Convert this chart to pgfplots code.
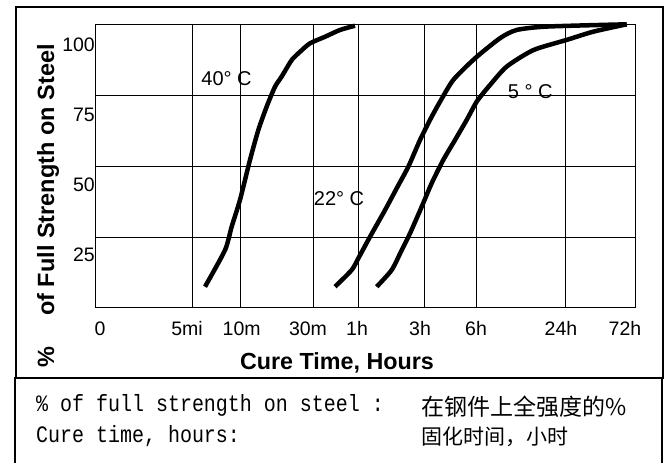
\documentclass[border=0pt]{standalone}
\usepackage{pgfplots}
\pgfplotsset{compat=1.18}
\usepackage{fontspec}
\setmainfont{Liberation Sans}
\newfontfamily\cjk{Noto Sans CJK SC}
\newfontfamily\mono[FakeStretch=0.85]{Liberation Mono}

\begin{document}
\begin{tikzpicture}[x=1pt,y=1pt]
\path[use as bounding box] (0,0) rectangle (671,463);
\begin{axis}[
    at={(95pt,155pt)}, anchor=south west,
    scale only axis, width=540pt, height=283.7pt,
    xmin=0, xmax=540, ymin=0, ymax=100,
    % grid lines sit where the chart draws them (5mi,10m,30m,1h,3h,6h,24h)
    xtick={97.3,145.7,218.3,263.3,329.3,381.7,470.3}, xticklabels={,,,,,,},
    ytick={25,50,75}, yticklabels={,,},
    grid=major, major grid style={black, line width=0.9pt},
    major tick length=0pt,
    axis line style={line width=1pt},
    extra x ticks={5,92,146.7,213,262,325,381,466,530},
    extra x tick labels={\raisebox{2pt}{0},5mi,10m,30m,1h,\raisebox{2pt}{3h},\raisebox{3pt}{6h},\raisebox{4pt}{24h},\raisebox{7pt}{72h}},
    extra y ticks={18.7,43.4,68,92.7},
    extra y tick labels={25,50,75,100},
    extra tick style={grid=none, major tick length=0pt},
    tick label style={font=\fontsize{19.5}{20}\selectfont},
    yticklabel style={anchor=east, inner xsep=0pt},
    xticklabel style={yshift=-10pt},
    /pgf/number format/assume math mode=true,
    clip=false,
]

% 40 C
\addplot[black, line width=4.5pt, smooth, tension=0.4] coordinates {
    (110,7.5) (130,20.4) (136.7,28.7) (145,38.1) (155,52.2) (163.3,62.7)
    (171.7,71.0) (180,78.0) (186.7,81.6) (196.7,87.4) (205,90.3) (215,93.3)
    (230,95.6) (245,98.0) (260,99.5)
};
% 22 C
\addplot[black, line width=4.5pt, smooth, tension=0.4] coordinates {
    (240,7.5) (256.7,13.4) (263.3,17.5) (275,25.1) (290,34.5) (301.7,42.2)
    (313.3,49.8) (325,59.2) (335,66.3) (345,72.7) (358.3,80.4) (380,88.0)
    (405,95.1) (421.7,98.0) (451.7,99.2) (531.7,100)
};
% 5 C
\addplot[black, line width=4.5pt, smooth, tension=0.4] coordinates {
    (281.7,7.5) (296.7,13.4) (306.7,20.4) (315,26.3) (326.7,35.7) (336.7,44.0)
    (348.3,52.2) (360,59.2) (371.7,66.3) (382,72.9) (395,78.6) (411.7,85.1)
    (438.3,90.9) (471.7,94.5) (498.3,97.4) (531.7,100)
};

\node[font=\fontsize{20}{21}\selectfont] at (axis cs:131.5,81) {40° C};
\node[font=\fontsize{20}{21}\selectfont] at (axis cs:244,38.7) {22° C};
\node[font=\fontsize{20}{21}\selectfont] at (axis cs:435.3,76.2) {5 ° C};
\end{axis}

% frames
\draw[line width=2pt] (16,85) rectangle (663,456);
\draw[line width=2pt] (15,0) -- (15,85) -- (662,85) -- (662,0);

% axis titles
\node[rotate=90, font=\bfseries\fontsize{23.5}{24}\selectfont] at (48,257)
    {\%\hspace{31pt}of Full Strength on Steel};
\node[font=\bfseries\fontsize{23.3}{24}\selectfont] at (337,100) {Cure Time, Hours};

% translation box
\node[anchor=west, inner sep=0pt, font=\mono\fontsize{23.5}{24}\selectfont] at (36,58)
    {\% of full strength on steel :};
\node[anchor=west, inner sep=0pt, font=\mono\fontsize{23.5}{24}\selectfont] at (36,27)
    {Cure time, hours:};
\node[anchor=west, inner sep=0pt, font=\cjk\fontsize{23}{24}\selectfont] at (421.7,56.3)
    {在钢件上全强度的\%};
\node[anchor=west, inner sep=0pt, font=\cjk\fontsize{21}{22}\selectfont] at (421.7,26.3)
    {固化时间，小时};
\end{tikzpicture}
\end{document}
